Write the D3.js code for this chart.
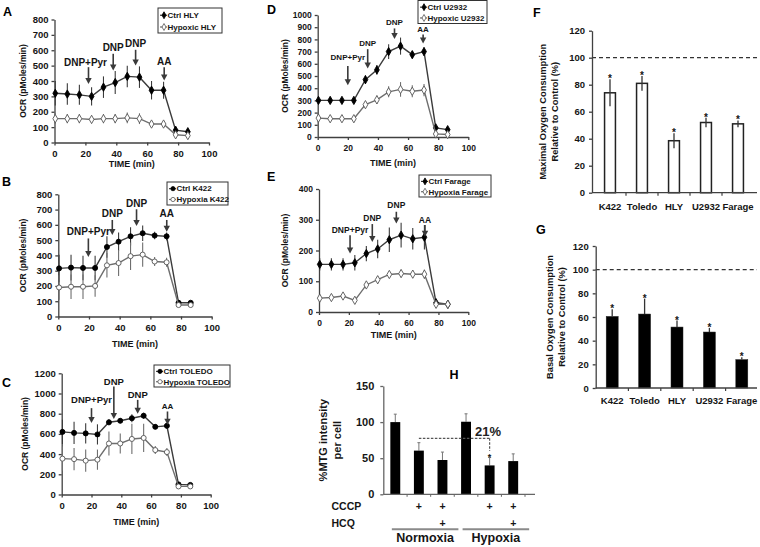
<!DOCTYPE html>
<html><head><meta charset="utf-8">
<script src="https://cdn.jsdelivr.net/npm/d3@7"></script>
<style>
body{margin:0;background:#fff;}
svg{display:block;background:#fff;}
</style></head><body>
<svg id="chart" width="760" height="547"></svg>
<script>
// ---------------- DATA ----------------
const times = [0.5, 8.3, 16.1, 24, 31.7, 39.3, 47.1, 55, 62.8, 70.6, 78.4, 86.3];
const xTicks = [0, 20, 40, 60, 80, 100];
const yTicksA = [0, 100, 200, 300, 400, 500, 600, 700, 800];
const yTicksB = [0, 100, 200, 300, 400, 500, 600, 700, 800];
const yTicksC = [0, 200, 400, 600, 800, 1000, 1200];
const yTicksD = [0, 100, 200, 300, 400, 500, 600, 700, 800, 900, 1000];
const yTicksE = [0, 100, 200, 300, 400];

const hlyCtrl    = [320, 315, 310, 300, 360, 390, 430, 425, 340, 340, 80, 70];
const hlyCtrlErr = [80, 70, 65, 60, 70, 75, 70, 70, 60, 55, 12, 10];
const hlyHyp     = [155, 155, 155, 150, 155, 155, 160, 155, 120, 120, 50, 45];
const hlyHypErr  = [35, 30, 30, 25, 30, 30, 35, 35, 20, 20, 8, 8];

const k422Ctrl    = [315, 320, 318, 318, 455, 490, 525, 545, 530, 525, 90, 90];
const k422CtrlErr = [90, 85, 80, 80, 70, 60, 60, 50, 25, 25, 10, 10];
const k422Hyp     = [190, 195, 195, 200, 335, 350, 395, 405, 360, 355, 75, 75];
const k422HypErr  = [80, 80, 80, 70, 80, 85, 90, 80, 30, 30, 8, 8];

const toledoCtrl    = [620, 610, 605, 595, 715, 730, 755, 780, 670, 680, 100, 95];
const toledoCtrlErr = [120, 110, 100, 100, 30, 25, 40, 30, 25, 30, 15, 15];
const toledoHyp     = [355, 350, 335, 345, 505, 505, 550, 560, 440, 420, 80, 80];
const toledoHypErr  = [120, 110, 110, 100, 120, 100, 150, 140, 40, 40, 10, 10];

const u2932Ctrl    = [300, 300, 300, 300, 470, 550, 700, 745, 675, 700, 75, 60];
const u2932CtrlErr = [25, 20, 20, 20, 35, 40, 60, 70, 30, 35, 10, 10];
const u2932Hyp     = [155, 150, 150, 150, 265, 305, 370, 390, 375, 385, 25, 20];
const u2932HypErr  = [15, 10, 10, 15, 20, 35, 45, 60, 50, 50, 10, 10];

const farageCtrl    = [155, 155, 155, 160, 190, 205, 235, 250, 238, 243, 30, 25];
const farageCtrlErr = [20, 20, 20, 25, 25, 30, 40, 40, 35, 40, 10, 10];
const farageHyp     = [45, 47, 52, 38, 88, 105, 122, 125, 123, 123, 25, 25];
const farageHypErr  = [10, 10, 8, 8, 8, 12, 10, 12, 12, 15, 10, 12];

const cellLines  = ["K422", "Toledo", "HLY", "U2932", "Farage"];
const maximalPct = [74, 81, 38.5, 52, 51];
const maximalErr = [10, 5.5, 5.5, 3.5, 2.5];
const basalPct   = [60.5, 62.5, 51.5, 47.3, 24];
const basalErr   = [6, 13, 5.5, 3.5, 2];
const pctTicks   = [0, 20, 40, 60, 80, 100, 120];

const mtgConditions = ["N", "N+CCCP", "N+CCCP+HCQ", "H", "H+CCCP", "H+CCCP+HCQ"];
const mtgValues = [100, 60.5, 47.5, 100.5, 40, 46];
const mtgErr    = [11, 11, 11, 11, 11, 10];
const mtgTicks  = [0, 50, 100, 150];
const cccpRow   = ["", "+", "+", "", "+", "+"];
const hcqRow    = ["", "", "+", "", "", "+"];
const oxygenGroups = ["Normoxia", "Hypoxia"];

// ---------------- DRAWING ----------------
const FONT = "'Liberation Sans', Arial, Helvetica, sans-serif";
const svg = d3.select("#chart").attr("font-family", FONT).attr("font-weight", "bold");
const TXT = "#151515";
const intFmt = d3.format("d");

function styleAxis(a, fs) {
  a.attr("font-family", FONT);
  a.selectAll("text").attr("font-size", fs).attr("font-weight", "bold").attr("fill", TXT);
  a.selectAll("path,line").attr("stroke", "#404040").attr("stroke-width", 1.3);
}

function drawLinePanel(p) {
  const x = d3.scaleLinear().domain([0, 100]).range([p.x0, p.x1]);
  const y = d3.scaleLinear().domain([0, p.yMax]).range([p.y0, p.y1]);
  const g = svg.append("g");

  const xa = g.append("g").attr("transform", `translate(0,${p.y0})`)
    .call(d3.axisBottom(x).tickValues(xTicks).tickFormat(intFmt).tickSize(3).tickSizeOuter(0).tickPadding(5));
  styleAxis(xa, p.tickFs);
  const ya = g.append("g").attr("transform", `translate(${p.x0},0)`)
    .call(d3.axisLeft(y).tickValues(p.yTicks).tickFormat(intFmt).tickSize(3).tickSizeOuter(0).tickPadding(3));
  styleAxis(ya, p.tickFs);

  p.series.forEach(s => {
    g.append("g").selectAll("line").data(s.vals).join("line")
      .attr("x1", (d, i) => x(times[i])).attr("x2", (d, i) => x(times[i]))
      .attr("y1", (d, i) => y(Math.max(0, d - s.err[i]))).attr("y2", (d, i) => y(d + s.err[i]))
      .attr("stroke", s.color).attr("stroke-width", 1.1);
    g.append("path").datum(s.vals)
      .attr("d", d3.line().x((d, i) => x(times[i])).y(d => y(d)))
      .attr("fill", "none").attr("stroke", s.color).attr("stroke-width", 1.4);
    g.append("g").selectAll("path").data(s.vals).join("path")
      .attr("transform", (d, i) => `translate(${x(times[i])},${y(d)})`)
      .attr("d", d3.symbol(s.symbol, s.size))
      .attr("fill", s.fill).attr("stroke", s.stroke).attr("stroke-width", 0.9);
  });

  p.ann.forEach(a => {
    const ax = x(a.t);
    g.append("text").attr("x", ax + (a.dx || 0)).attr("y", y(a.ly)).attr("dy", "0.35em")
      .attr("text-anchor", "middle").attr("font-size", a.fs || p.annFs).attr("fill", TXT).text(a.label);
    const yt = y(a.top), yb = y(a.tip);
    g.append("line").attr("x1", ax).attr("x2", ax).attr("y1", yt).attr("y2", yb - 4)
      .attr("stroke", "#3a3a3a").attr("stroke-width", 1.6);
    g.append("path").attr("d", `M${ax - 3.2},${yb - 6}L${ax + 3.2},${yb - 6}L${ax},${yb}Z`).attr("fill", "#3a3a3a");
  });

  // legend
  const L = p.leg;
  g.append("rect").attr("x", L.x).attr("y", L.y).attr("width", L.w).attr("height", L.h)
    .attr("fill", "#fff").attr("stroke", "#333").attr("stroke-width", 1);
  p.series.forEach((s, i) => {
    const ry = L.y + L.h * (i === 0 ? 0.29 : 0.76);
    const lx = L.x + 6;
    g.append("line").attr("x1", lx - 4).attr("x2", lx + 3).attr("y1", ry).attr("y2", ry)
      .attr("stroke", s.color).attr("stroke-width", 1.2);
    g.append("path").attr("transform", `translate(${lx},${ry})`).attr("d", d3.symbol(s.symbol, 14))
      .attr("fill", s.fill).attr("stroke", s.stroke).attr("stroke-width", 0.8);
    g.append("text").attr("x", lx + 3.5).attr("y", ry).attr("dy", "0.35em")
      .attr("font-size", L.fs).attr("fill", TXT).text(s.name);
  });

  // axis titles & panel letter
  g.append("text").attr("x", x(50)).attr("y", p.y0 + p.tOff).attr("dy", "0.35em")
    .attr("text-anchor", "middle").attr("font-size", 9).attr("fill", TXT).text("TIME (min)");
  g.append("text").attr("transform", `translate(${p.ylx},${(p.y0 + p.y1) / 2}) rotate(-90)`)
    .attr("dy", "0.35em").attr("text-anchor", "middle").attr("font-size", p.ylFs).attr("fill", TXT)
    .text("OCR (pMoles/min)");
  g.append("text").attr("x", p.lx).attr("y", p.ly).attr("dy", "0.35em")
    .attr("font-size", 12.5).attr("fill", "#000").text(p.letter);
}

const CTRL = { color: "#3b3b3b", fill: "#000", stroke: "#000" };
const HYP = { color: "#6e6e6e", fill: "#fff", stroke: "#555" };
function ser(base, name, vals, err, symbol) {
  return Object.assign({}, base, { name, vals, err, symbol, size: 20 });
}

drawLinePanel({
  letter: "A", lx: 3, ly: 12, x0: 54.5, x1: 209, y0: 142.5, y1: 19.5, yMax: 800, yTicks: yTicksA,
  tickFs: 9.5, annFs: 10, tOff: 21, ylx: 23, ylFs: 8.5,
  leg: { x: 158, y: 8, w: 64, h: 25, fs: 8 },
  series: [ser(CTRL, "Ctrl HLY", hlyCtrl, hlyCtrlErr, d3.symbolDiamond),
           ser(HYP, "Hypoxic HLY", hlyHyp, hlyHypErr, d3.symbolDiamond)],
  ann: [{ label: "DNP+Pyr", t: 22, ly: 523, top: 490, tip: 381, dx: -3 },
        { label: "DNP", t: 38, ly: 621, top: 577, tip: 468 },
        { label: "DNP", t: 52.5, ly: 647, top: 603, tip: 501 },
        { label: "AA", t: 71, ly: 527, top: 490, tip: 403 }]
});

drawLinePanel({
  letter: "B", lx: 2, ly: 182, x0: 58.3, x1: 211.7, y0: 316.5, y1: 194.3, yMax: 800, yTicks: yTicksB,
  tickFs: 9.5, annFs: 10, tOff: 27, ylx: 23, ylFs: 8.5,
  leg: { x: 167, y: 182, w: 61, h: 23, fs: 8 },
  series: [ser(CTRL, "Ctrl K422", k422Ctrl, k422CtrlErr, d3.symbolCircle),
           ser(HYP, "Hypoxia K422", k422Hyp, k422HypErr, d3.symbolCircle)],
  ann: [{ label: "DNP+Pyr", t: 19.6, ly: 559, top: 511, tip: 390 },
        { label: "DNP", t: 35.2, ly: 675, top: 632, tip: 533 },
        { label: "DNP", t: 51, ly: 741, top: 702, tip: 592 },
        { label: "AA", t: 70.7, ly: 675, top: 632, tip: 555 }]
});

drawLinePanel({
  letter: "C", lx: 2, ly: 383, x0: 61.7, x1: 210.7, y0: 494.5, y1: 373.3, yMax: 1200, yTicks: yTicksC,
  tickFs: 9.5, annFs: 9.5, tOff: 27, ylx: 25, ylFs: 8.5,
  leg: { x: 154, y: 365, w: 76, h: 22, fs: 8 },
  series: [ser(CTRL, "Ctrl TOLEDO", toledoCtrl, toledoCtrlErr, d3.symbolCircle),
           ser(HYP, "Hypoxia TOLEDO", toledoHyp, toledoHypErr, d3.symbolCircle)],
  ann: [{ label: "DNP+Pyr", t: 20, ly: 937, top: 855, tip: 707 },
        { label: "DNP", t: 35, ly: 1118, top: 1069, tip: 747 },
        { label: "DNP", t: 51, ly: 987, top: 937, tip: 800 },
        { label: "AA", t: 71, ly: 872, top: 822, tip: 691, fs: 8 }]
});

drawLinePanel({
  letter: "D", lx: 267, ly: 10, x0: 317.7, x1: 468.3, y0: 137, y1: 15, yMax: 1000, yTicks: yTicksD,
  tickFs: 8.5, annFs: 8, tOff: 25.5, ylx: 285, ylFs: 8.5,
  leg: { x: 418, y: 0.5, w: 69, h: 23, fs: 8 },
  series: [ser(CTRL, "Ctrl U2932", u2932Ctrl, u2932CtrlErr, d3.symbolDiamond),
           ser(HYP, "Hypoxic U2932", u2932Hyp, u2932HypErr, d3.symbolDiamond)],
  ann: [{ label: "DNP+Pyr", t: 20, ly: 652, top: 581, tip: 425 },
        { label: "DNP", t: 33.2, ly: 767, top: 720, tip: 562 },
        { label: "DNP", t: 51, ly: 945, top: 890, tip: 803 },
        { label: "AA", t: 70, ly: 885, top: 841, tip: 767 }]
});

drawLinePanel({
  letter: "E", lx: 267, ly: 177, x0: 319, x1: 468.3, y0: 312, y1: 189, yMax: 400, yTicks: yTicksE,
  tickFs: 8.5, annFs: 8.5, tOff: 22.5, ylx: 285, ylFs: 8.5,
  leg: { x: 419, y: 175, w: 72, h: 22, fs: 8 },
  series: [ser(CTRL, "Ctrl Farage", farageCtrl, farageCtrlErr, d3.symbolDiamond),
           ser(HYP, "Hypoxia Farage", farageHyp, farageHypErr, d3.symbolDiamond)],
  ann: [{ label: "DNP+Pyr", t: 20.8, ly: 266, top: 250, tip: 190 },
        { label: "DNP", t: 35.7, ly: 304, top: 286, tip: 228 },
        { label: "DNP", t: 51.8, ly: 348, top: 326, tip: 288 },
        { label: "AA", t: 71, ly: 299, top: 283, tip: 245 }]
});

// ---------- F & G ----------
function drawPctPanel(p) {
  const x = d3.scaleBand().domain(cellLines).range([p.bx0, p.bx1]).paddingInner(p.pad).paddingOuter(p.pad / 2);
  const y = d3.scaleLinear().domain([0, 120]).range([p.y0, p.y1]);
  const g = svg.append("g");
  const bw = x.bandwidth();
  const cx = c => x(c) + bw / 2;

  // dashed 100% line
  g.append("line").attr("x1", p.ax).attr("x2", p.axEnd).attr("y1", y(100)).attr("y2", y(100))
    .attr("stroke", "#333").attr("stroke-width", 1.3).attr("stroke-dasharray", "4,3");

  g.selectAll("rect.bar").data(cellLines).join("rect").attr("class", "bar")
    .attr("x", c => x(c)).attr("width", bw)
    .attr("y", (c, i) => y(p.vals[i])).attr("height", (c, i) => p.y0 - y(p.vals[i]))
    .attr("fill", p.fill).attr("stroke", "#222").attr("stroke-width", p.fill === "#fff" ? 1.5 : 0.5);

  g.selectAll("line.err").data(cellLines).join("line").attr("class", "err")
    .attr("x1", c => cx(c)).attr("x2", c => cx(c))
    .attr("y1", (c, i) => y(p.vals[i] - (p.both ? p.err[i] : 0)))
    .attr("y2", (c, i) => y(p.vals[i] + p.err[i]))
    .attr("stroke", "#333").attr("stroke-width", 1.3);

  g.selectAll("text.star").data(cellLines).join("text").attr("class", "star")
    .attr("x", c => cx(c)).attr("y", (c, i) => y(p.vals[i] + p.err[i]) + 3)
    .attr("text-anchor", "middle").attr("font-size", 10).attr("fill", TXT).text("*");

  const ya = g.append("g").attr("transform", `translate(${p.ax},0)`)
    .call(d3.axisLeft(y).tickValues(pctTicks).tickFormat(intFmt).tickSize(3).tickSizeOuter(0).tickPadding(4));
  styleAxis(ya, 9.5);

  // x axis line & ticks between bars
  g.append("line").attr("x1", p.ax).attr("x2", p.axEnd).attr("y1", p.y0).attr("y2", p.y0)
    .attr("stroke", "#404040").attr("stroke-width", 1.3);
  g.selectAll("line.xt").data(cellLines.slice(0, -1)).join("line").attr("class", "xt")
    .attr("x1", (c, i) => (cx(c) + cx(cellLines[i + 1])) / 2)
    .attr("x2", (c, i) => (cx(c) + cx(cellLines[i + 1])) / 2)
    .attr("y1", p.y0).attr("y2", p.y0 + 3).attr("stroke", "#404040").attr("stroke-width", 1.2);

  g.selectAll("text.cat").data(cellLines).join("text").attr("class", "cat")
    .attr("x", c => cx(c)).attr("y", p.catY).attr("dy", "0.35em").attr("text-anchor", "middle")
    .attr("font-size", 9.5).attr("fill", TXT).text(c => c);

  const yc = (p.y0 + p.y1) / 2;
  p.ylab.forEach((t, i) => {
    g.append("text").attr("transform", `translate(${p.ylx[i]},${yc}) rotate(-90)`)
      .attr("dy", "0.35em").attr("text-anchor", "middle").attr("font-size", 9.3).attr("fill", TXT).text(t);
  });
  g.append("text").attr("x", p.lx).attr("y", p.ly).attr("dy", "0.35em")
    .attr("font-size", 12.5).attr("fill", "#000").text(p.letter);
}

drawPctPanel({
  letter: "F", lx: 533, ly: 13, ax: 592, axEnd: 757, bx0: 594, bx1: 754, pad: 0.66,
  y0: 192.7, y1: 30.7, vals: maximalPct, err: maximalErr, both: true, fill: "#fff", catY: 207,
  ylab: ["Maximal Oxygen Consumption", "Relative to Control (%)"], ylx: [543, 555]
});

drawPctPanel({
  letter: "G", lx: 536, ly: 230, ax: 595.7, axEnd: 757, bx0: 596, bx1: 758, pad: 0.63,
  y0: 388, y1: 246, vals: basalPct, err: basalErr, both: false, fill: "#000", catY: 401,
  ylab: ["Basal Oxygen Consumption", "Relative to Control (%)"], ylx: [549.5, 561.5]
});

// ---------- H ----------
(function drawMTG() {
  const x = d3.scaleBand().domain(mtgConditions).range([383.5, 525]).paddingInner(0.58).paddingOuter(0.29);
  const y = d3.scaleLinear().domain([0, 150]).range([494.3, 386]);
  const g = svg.append("g");
  const bw = x.bandwidth();
  const cx = c => x(c) + bw / 2;

  g.selectAll("line.err").data(mtgConditions).join("line").attr("class", "err")
    .attr("x1", c => cx(c)).attr("x2", c => cx(c))
    .attr("y1", (c, i) => y(mtgValues[i])).attr("y2", (c, i) => y(mtgValues[i] + mtgErr[i]))
    .attr("stroke", "#777").attr("stroke-width", 1);
  g.selectAll("line.cap").data(mtgConditions).join("line").attr("class", "cap")
    .attr("x1", c => cx(c) - 1.5).attr("x2", c => cx(c) + 1.5)
    .attr("y1", (c, i) => y(mtgValues[i] + mtgErr[i])).attr("y2", (c, i) => y(mtgValues[i] + mtgErr[i]))
    .attr("stroke", "#777").attr("stroke-width", 1);
  g.selectAll("rect.bar").data(mtgConditions).join("rect").attr("class", "bar")
    .attr("x", c => x(c)).attr("width", bw)
    .attr("y", (c, i) => y(mtgValues[i])).attr("height", (c, i) => y(0) - y(mtgValues[i]))
    .attr("fill", "#000");

  const ya = g.append("g").attr("transform", `translate(383.3,0)`)
    .call(d3.axisLeft(y).tickValues(mtgTicks).tickFormat(intFmt).tickSize(3).tickSizeOuter(0).tickPadding(6));
  styleAxis(ya, 11);
  ya.selectAll("path,line").attr("stroke", "#666");

  g.append("line").attr("x1", 383.3).attr("x2", 535).attr("y1", y(0)).attr("y2", y(0))
    .attr("stroke", "#666").attr("stroke-width", 1.3);
  g.selectAll("line.xt").data(mtgConditions).join("line").attr("class", "xt")
    .attr("x1", c => cx(c) + x.step() / 2).attr("x2", c => cx(c) + x.step() / 2)
    .attr("y1", y(0)).attr("y2", y(0) + 2.5).attr("stroke", "#666").attr("stroke-width", 1);

  // comparison annotation
  const c1 = cx(mtgConditions[1]), c4 = cx(mtgConditions[4]);
  g.append("line").attr("x1", c1).attr("x2", c4).attr("y1", y(77.5)).attr("y2", y(77.5))
    .attr("stroke", "#555").attr("stroke-width", 1.2).attr("stroke-dasharray", "2.5,1.5");
  g.append("line").attr("x1", c4).attr("x2", c4).attr("y1", y(77.5)).attr("y2", y(60))
    .attr("stroke", "#555").attr("stroke-width", 1.2).attr("stroke-dasharray", "2.5,1.5");
  g.append("text").attr("x", c4 - 1.5).attr("y", y(86.5)).attr("dy", "0.35em").attr("text-anchor", "middle")
    .attr("font-size", 13).attr("fill", "#222").text("21%");
  g.append("text").attr("x", c4).attr("y", y(mtgValues[4] + mtgErr[4]) + 3).attr("text-anchor", "middle")
    .attr("font-size", 9).attr("fill", TXT).text("*");

  // treatment rows
  g.append("text").attr("x", 331.5).attr("y", 506.7).attr("dy", "0.35em").attr("font-size", 10.5).attr("fill", TXT).text("CCCP");
  g.append("text").attr("x", 331.5).attr("y", 523.3).attr("dy", "0.35em").attr("font-size", 10.5).attr("fill", TXT).text("HCQ");
  g.selectAll("text.cccp").data(mtgConditions).join("text").attr("class", "cccp")
    .attr("x", c => cx(c)).attr("y", 506.7).attr("dy", "0.35em").attr("text-anchor", "middle")
    .attr("font-size", 10.5).attr("fill", TXT).text((c, i) => cccpRow[i]);
  g.selectAll("text.hcq").data(mtgConditions).join("text").attr("class", "hcq")
    .attr("x", c => cx(c)).attr("y", 523.3).attr("dy", "0.35em").attr("text-anchor", "middle")
    .attr("font-size", 10.5).attr("fill", TXT).text((c, i) => hcqRow[i]);

  oxygenGroups.forEach((name, k) => {
    const first = mtgConditions[k * 3], last = mtgConditions[k * 3 + 2];
    const xs = x(first) + 1.5, xe = x(last) + bw + 11;
    g.append("line").attr("x1", xs).attr("x2", xe).attr("y1", 529.3).attr("y2", 529.3)
      .attr("stroke", "#8a8a8a").attr("stroke-width", 2);
    g.append("text").attr("x", (xs + xe) / 2).attr("y", 537.5).attr("dy", "0.35em").attr("text-anchor", "middle")
      .attr("font-size", 12.5).attr("fill", TXT).text(name);
  });

  const yc = (y(0) + y(150)) / 2;
  [["%MTG intensity", 323.5], ["per cell", 337]].forEach(([t, xx]) => {
    g.append("text").attr("transform", `translate(${xx},${yc}) rotate(-90)`)
      .attr("dy", "0.35em").attr("text-anchor", "middle").attr("font-size", 11).attr("fill", TXT).text(t);
  });
  g.append("text").attr("x", 454).attr("y", 375).attr("dy", "0.35em").attr("text-anchor", "middle")
    .attr("font-size", 12.5).attr("fill", "#000").text("H");
})();
</script>
</body></html>
